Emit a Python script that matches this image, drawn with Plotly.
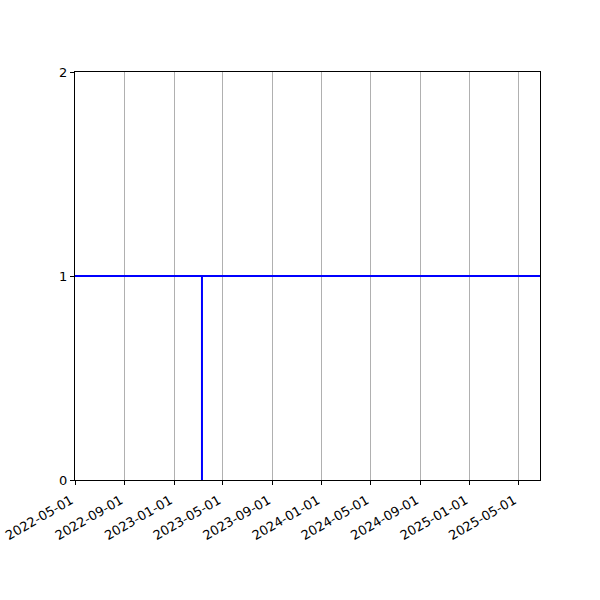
import plotly.graph_objects as go

dates = ["2022-05-01", "2023-03-11", "2023-03-11", "2023-03-11", "2025-06-24"]
values = [1, 1, 0, 1, 1]

fig = go.Figure()
fig.add_trace(go.Scatter(x=dates, y=values, mode="lines",
                         line=dict(color="#0000ff", width=2), showlegend=False))

fig.update_layout(
    width=600, height=600, autosize=False,
    margin=dict(l=75, r=60, t=72, b=120, autoexpand=False),
    paper_bgcolor="white", plot_bgcolor="white",
    font=dict(family="DejaVu Sans", size=13, color="black"),
)
fig.update_xaxes(
    type="date", range=["2022-05-01", "2025-06-24"],
    tick0="2022-05-01", dtick="M4", tickformat="%Y-%m-%d",
    tickangle=-30, ticks="outside", ticklen=4, tickcolor="black",
    ticklabelshift=-4, ticklabelstandoff=3,
    showgrid=True, gridcolor="#b0b0b0", gridwidth=1,
    showline=True, linecolor="black", linewidth=1, mirror=True,
    zeroline=False, automargin=False,
)
fig.update_yaxes(
    range=[0, 2], tickvals=[0, 1, 2], ticks="outside", ticklen=4, tickcolor="black",
    showgrid=False, showline=True, linecolor="black", linewidth=1, mirror=True,
    zeroline=False, automargin=False,
)
fig.write_html("out.html", config={"displayModeBar": False},
               post_script="document.body.style.margin='0';document.body.style.overflow='hidden';")
